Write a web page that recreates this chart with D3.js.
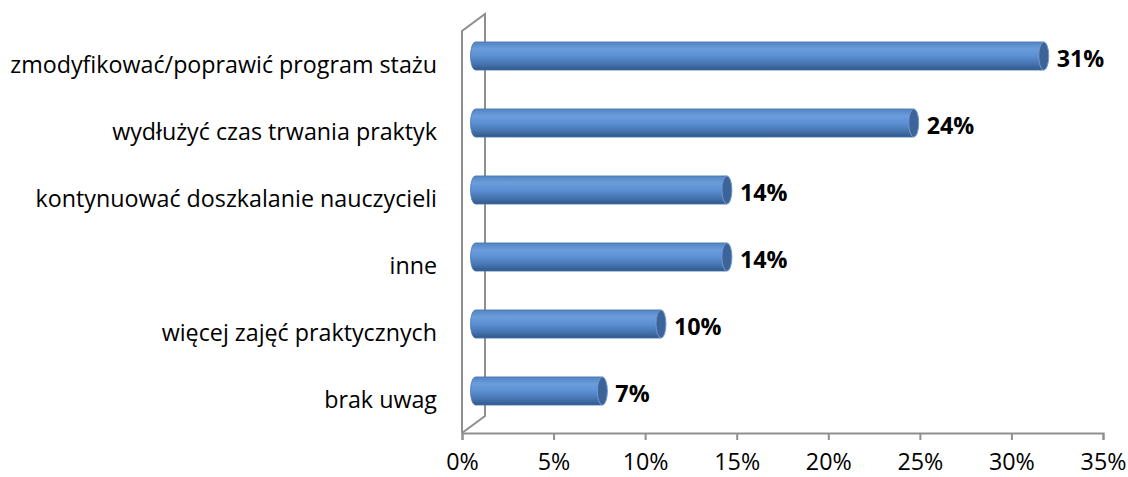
<!DOCTYPE html>
<html>
<head>
<meta charset="utf-8">
<script src="https://cdn.jsdelivr.net/npm/d3@7"></script>
<style>
  body { margin: 0; background: #fff; }
  text { font-family: "Open Sans", sans-serif; fill: #000; }
</style>
</head>
<body>
<svg id="chart" width="1128" height="477"></svg>
<script>
var categories = [
  'zmodyfikować/poprawić program stażu',
  'wydłużyć czas trwania praktyk',
  'kontynuować doszkalanie nauczycieli',
  'inne',
  'więcej zajęć praktycznych',
  'brak uwag'
];
var values = [0.313, 0.242, 0.14, 0.14, 0.104, 0.072];
var valueLabels = ['31%', '24%', '14%', '14%', '10%', '7%'];
var xTicks = [0, 0.05, 0.10, 0.15, 0.20, 0.25, 0.30, 0.35];

var svg = d3.select('#chart');

// front plane of the plot, plus 3d depth offset
var plot = {left: 462, right: 1103, top: 31, bottom: 433};
var depth = {x: 23, y: -17};

var x = d3.scaleLinear().domain([0, 0.35]).range([plot.left, plot.right]);
var y = d3.scaleBand().domain(categories)
  .range([plot.top, plot.bottom])
  .paddingInner(0.58).paddingOuter(0.29);

var wallColor = '#8f8f8f';

// fit font size so the longest label has the reference width
var probe = svg.append('text').attr('font-size', 20).text(categories[0]);
var fontSize = 20 * 427 / probe.node().getComputedTextLength();
probe.remove();

// gradient for the cylinder body
var defs = svg.append('defs');
var grad = defs.append('linearGradient')
  .attr('id', 'barGrad').attr('x1', 0).attr('y1', 0).attr('x2', 0).attr('y2', 1);
grad.append('stop').attr('offset', '0%').attr('stop-color', '#5283c3');
grad.append('stop').attr('offset', '25%').attr('stop-color', '#6b9ddb');
grad.append('stop').attr('offset', '50%').attr('stop-color', '#5c90d4');
grad.append('stop').attr('offset', '80%').attr('stop-color', '#4472ad');
grad.append('stop').attr('offset', '100%').attr('stop-color', '#30578a');

// walls
var walls = svg.append('g')
  .attr('fill', 'none')
  .attr('stroke', wallColor)
  .attr('stroke-width', 2);

walls.append('path')
  .attr('d', 'M' + plot.left + ',' + plot.bottom +
    'V' + plot.top +
    'L' + (plot.left + depth.x) + ',' + (plot.top + depth.y) +
    'V' + (plot.bottom + depth.y) +
    'L' + plot.left + ',' + plot.bottom);

// x axis
var xAxis = d3.axisBottom(x)
  .tickValues(xTicks)
  .tickFormat(d3.format('.0%'))
  .tickSizeInner(7)
  .tickSizeOuter(7)
  .tickPadding(0);

var gx = svg.append('g')
  .attr('transform', 'translate(0,' + plot.bottom + ')')
  .call(xAxis);
gx.select('.domain').attr('stroke', wallColor).attr('stroke-width', 2);
gx.selectAll('.tick line').attr('stroke', wallColor).attr('stroke-width', 2);
gx.selectAll('.tick text')
  .attr('y', 37)
  .attr('dy', null)
  .attr('font-size', fontSize)
  .attr('font-family', '"Open Sans", sans-serif')
  .attr('fill', '#000');

// category labels
svg.append('g').selectAll('text')
  .data(categories)
  .join('text')
  .attr('x', plot.left - 25)
  .attr('y', function(d) { return y(d) + y.bandwidth() / 2 + 8.5; })
  .attr('text-anchor', 'end')
  .attr('font-size', fontSize)
  .text(function(d) { return d; });

// cylinders, placed half way into the depth
var bx = depth.x / 2 - 3, by = depth.y / 2;
var h = y.bandwidth();
var rx = 5;

var bars = svg.append('g').selectAll('g')
  .data(categories)
  .join('g')
  .attr('transform', function(d) { return 'translate(' + bx + ',' + (y(d) + by) + ')'; });

bars.append('path')
  .attr('d', function(d, i) {
    var x0 = x(0) + rx, x1 = x(values[i]);
    return 'M' + x1 + ',0H' + x0 +
      'A' + rx + ',' + (h / 2) + ' 0 0 0 ' + x0 + ',' + h +
      'H' + x1 + 'Z';
  })
  .attr('fill', 'url(#barGrad)')
  .attr('stroke', '#4a76ad')
  .attr('stroke-width', 0.8);

bars.append('ellipse')
  .attr('cx', function(d, i) { return x(values[i]); })
  .attr('cy', h / 2)
  .attr('rx', rx)
  .attr('ry', h / 2)
  .attr('fill', '#3c6499')
  .attr('stroke', '#6f98cf')
  .attr('stroke-width', 1);

// value labels
bars.append('text')
  .attr('x', function(d, i) { return x(values[i]) + rx + 8; })
  .attr('y', h / 2 + 11.5)
  .attr('font-size', fontSize)
  .attr('font-weight', 'bold')
  .text(function(d, i) { return valueLabels[i]; });
</script>
</body>
</html>
